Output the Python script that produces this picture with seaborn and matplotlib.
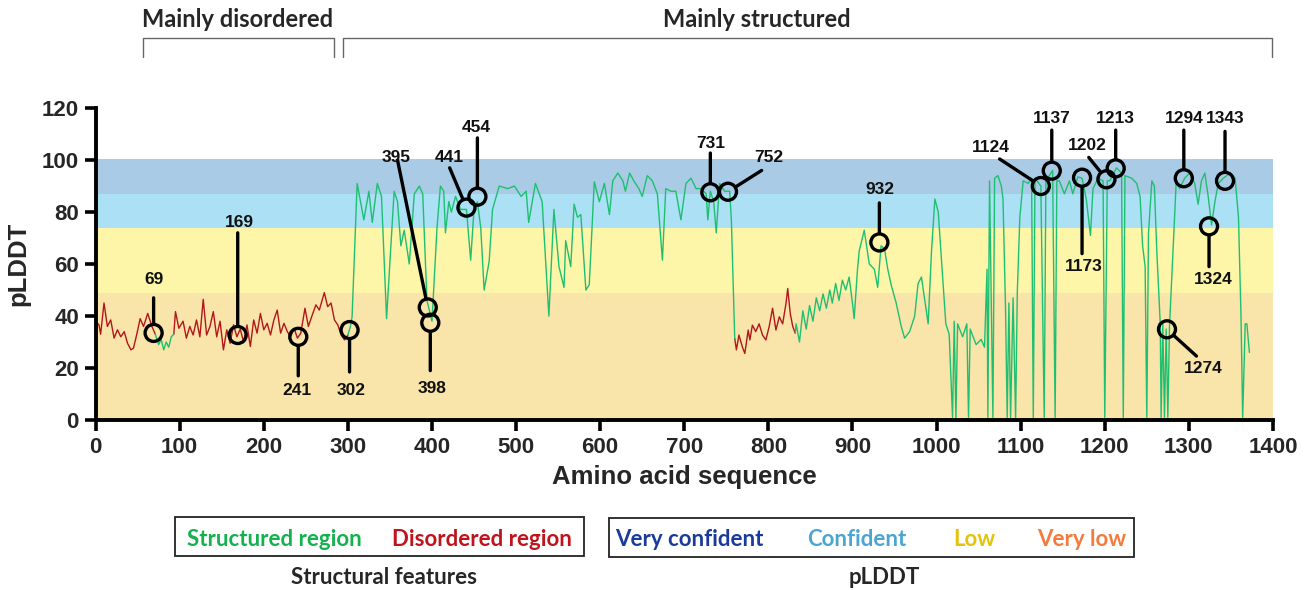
import numpy as np
import pandas as pd
import matplotlib
matplotlib.use("Agg")
import matplotlib.pyplot as plt
from matplotlib.patches import Rectangle
from matplotlib.transforms import blended_transform_factory
import seaborn as sns

# pLDDT profile (residue, score)
residue = [
    0, 4, 6, 10, 14, 18, 22, 26, 30, 34, 38, 42, 45, 49, 53, 57, 62, 67, 71,
    75, 78, 81, 84, 87, 90, 93,
    95, 99, 104, 108, 112, 116, 120, 124, 128, 132, 136, 140, 144, 148, 152, 156,
    160, 164, 168, 172, 176, 180, 184, 188, 192, 196, 200, 204, 208, 212, 216, 220,
    224, 228, 232, 236, 240, 244, 249, 253, 257, 262, 266, 272, 276, 280, 284, 288,
    292, 296, 300,
    303, 305, 311, 319, 325, 329, 335, 340, 346, 355, 359, 363, 367, 373, 379, 385,
    389, 394, 400, 406, 410, 414, 416, 420, 423, 428, 434, 441, 446, 450, 454, 458,
    462, 468, 472, 480, 490, 498, 506, 512, 515, 523, 531, 539, 545, 551, 557, 559,
    565, 569, 573, 577, 583, 587, 593, 599, 605, 611, 615, 621, 627, 630, 635, 640,
    646, 650, 656, 662, 668, 674, 678, 684, 690, 696, 702, 708, 714, 720, 726, 728,
    731, 735, 738, 742, 748, 754, 756, 760,
    762, 765, 769, 772, 776, 778, 781, 785, 789, 793, 797, 801, 805, 809, 813, 817,
    821, 823, 826, 829, 832,
    833, 837, 841, 845, 849, 853, 857, 861, 865, 869, 873, 876, 880, 884, 888, 892,
    896, 900, 902, 906, 908, 914, 920, 926, 930, 934, 938, 942, 946, 952, 958, 962,
    968, 974, 978, 982, 986, 990, 994, 998, 1002, 1006, 1011, 1015, 1019, 1021, 1023,
    1025, 1031, 1036, 1038, 1040, 1047, 1053, 1057, 1060, 1061, 1063, 1067, 1069,
    1073, 1077, 1079, 1082, 1084, 1086, 1088, 1091, 1094, 1096, 1099, 1103, 1109,
    1113, 1115, 1117, 1124, 1128, 1130, 1138, 1141, 1143, 1146, 1152, 1158, 1162,
    1168, 1173, 1178, 1183, 1186, 1192, 1198, 1200, 1203, 1206, 1214, 1220, 1222,
    1224, 1232, 1238, 1242, 1245, 1248, 1250, 1252, 1256, 1259, 1262, 1266, 1267,
    1269, 1271, 1273, 1275, 1277, 1281, 1285, 1289, 1295, 1301, 1307, 1311, 1315,
    1319, 1323, 1327, 1331, 1335, 1341, 1349, 1355, 1359, 1362, 1364, 1367, 1369,
    1372,
]
plddt = [
    38, 36.6, 33, 45, 36, 38.5, 31.5, 34.7, 32, 34, 29.5, 27, 27.6, 33, 39, 36, 41, 36, 33,
    29, 31, 27, 30, 28, 32, 33,
    41.7, 35.3, 38, 31.5, 36, 32.7, 38.5, 32, 46.4, 32.7, 36, 41.7, 32, 38, 27, 34.7,
    29.5, 36.6, 32, 35, 30, 36.6, 28.3, 38.5, 33.4, 41, 34.7, 37.2, 32.7, 38.5, 42.3, 33.4,
    37.2, 34, 32, 35.3, 31.5, 33.4, 43, 36, 39.8, 44.3, 42.3, 49, 43.6, 45, 38.5, 36.6,
    32.7, 30.8, 32.7,
    36, 39.7, 91, 77, 88, 76, 91, 86, 39, 88, 84, 67, 73, 60, 87, 90,
    87, 46, 38, 74, 90, 88, 72, 84, 80, 86, 81, 81, 61.5, 81, 84, 74,
    50, 61, 81, 90, 89, 90, 86, 88, 76, 91, 84, 40, 81, 59, 51, 69,
    59, 83, 78, 79, 50, 52, 91.6, 84, 91, 79, 92, 95, 92, 88, 95, 92,
    89, 86, 94, 92, 87, 61.5, 89, 88, 88, 77, 91, 93, 89, 89, 87, 77,
    88, 84, 72, 91, 88, 88, 77, 31.4,
    27, 32.7, 28.2, 25.6, 34.6, 30.8, 36.5, 34, 37, 32.7, 30.8, 36, 43, 34.6, 39.7, 37,
    44.9, 50.6, 41, 36, 33.4,
    37, 30, 42, 35, 44, 38, 47, 42, 48.5, 43, 50, 45, 52.5, 46, 53.8, 50,
    55, 45, 39, 58, 65, 73, 60, 58, 51, 67, 66, 58, 52, 45, 36, 31.5,
    34, 40, 52.5, 55, 46, 37, 65, 85, 80, 61, 37, 33, 1, 38, 0,
    37, 32, 37, 1, 35, 29, 31, 28, 58, 1, 92, 1, 93,
    94, 90, 85, 43, 1, 45, 1, 47, 1, 49, 78, 92, 91,
    93, 1, 93, 90, 1, 92, 96, 1, 92, 92, 87, 92, 87,
    93.5, 93, 85, 71, 89, 93, 92, 1, 92, 92, 97, 95, 1,
    94, 93, 91, 86, 67, 59, 1, 72, 92, 90, 64, 37, 1,
    37, 1, 35, 1, 36, 64, 92, 89, 93, 95, 91, 83, 92,
    95, 86, 75, 84, 91, 93, 95, 93, 78, 40, 1, 37, 37,
    26,
]
# residue ranges and their structural class
region_edges = [0, 71, 93, 300, 760, 832, 1372]
region_kind = ["Disordered", "Structured", "Disordered", "Structured", "Disordered", "Structured"]

# highlighted residues
site_pos = [69, 169, 241, 302, 395, 398, 441, 454, 731, 752, 932, 1124, 1137, 1173,
            1202, 1213, 1274, 1294, 1324, 1343]
site_val = [33.5, 32.7, 32, 34.6, 43.3, 37.4, 81.7, 85.9, 87.6, 87.8, 68.3, 90, 95.9,
            93.2, 92.6, 96.8, 34.9, 93, 74.5, 92]
# label position and start of leader line for each site
label_xy = [(69, 54), (171, 76), (240, 11.5), (304, 11.5), (357, 100.8), (400, 12.3),
            (420, 101), (453, 112.7), (732, 106.5), (801, 101), (933, 88.5), (1064, 105),
            (1137, 115.8), (1175, 59), (1179, 105.5), (1212, 116), (1317, 20),
            (1294, 116), (1329, 54), (1343, 116)]
line_from = [(69, 47), (169, 72), (241, 17), (302, 18.5), (359, 100), (398, 19),
             (421, 97), (454, 108.5), (731, 102.7), (792, 96), (932, 83.5), (1075, 100.4),
             (1137, 111.5), (1173, 64), (1181, 101), (1213, 111.5), (1309, 24.6),
             (1294, 111.5), (1324, 59), (1343, 111)]

bands = [(0, 49, "#f9e4aa"), (49, 74, "#fdf6a9"), (74, 87, "#ace0f4"), (87, 100.5, "#a9cbe5")]

# split the profile into coloured segments
rows = []
res_arr = np.array(residue)
val_arr = np.array(plddt)
for i, kind in enumerate(region_kind):
    lo, hi = region_edges[i], region_edges[i + 1]
    m = (res_arr >= lo) & (res_arr <= hi)
    for r, v in zip(res_arr[m], val_arr[m]):
        rows.append({"residue": r, "plddt": v, "seg": i, "kind": kind})
df = pd.DataFrame(rows)

sns.set_theme(style="ticks")
plt.rcParams["font.family"] = ["Liberation Sans", "DejaVu Sans"]
narrow = ["Liberation Sans Narrow", "Lato", "DejaVu Sans"]

fig = plt.figure(figsize=(13.13, 5.9), dpi=100)
ax = fig.add_axes([0.0728, 0.2881, 0.8967, 0.5288])

for lo, hi, c in bands:
    ax.axhspan(lo, hi, color=c, lw=0, zorder=0)

sns.lineplot(data=df, x="residue", y="plddt", hue="kind", units="seg", estimator=None,
             palette={"Structured": "#1fbf72", "Disordered": "#b3161b"}, lw=1.0,
             legend=False, ax=ax, zorder=2)

sns.scatterplot(x=site_pos, y=site_val, s=150, facecolor="none", edgecolor="black",
                linewidth=2.4, ax=ax, zorder=4)

for i, p in enumerate(site_pos):
    ax.annotate("", xy=(p, site_val[i]), xytext=line_from[i],
                arrowprops=dict(arrowstyle="-", lw=2.4, color="black", shrinkA=0, shrinkB=6.5),
                zorder=3)
    ax.text(label_xy[i][0], label_xy[i][1], str(p), ha="center", va="center",
            fontsize=12.5, fontweight="bold", color="#111111")

ax.set_xlim(0, 1400)
ax.set_ylim(0, 120)
ax.set_xticks(range(0, 1401, 100))
ax.set_yticks(range(0, 121, 20))
sns.despine(ax=ax)
for s in ["left", "bottom"]:
    ax.spines[s].set_linewidth(2.8)
    ax.spines[s].set_color("black")
ax.tick_params(axis="both", length=8, width=2.6, color="black", labelsize=16, pad=4)
for lab in ax.get_xticklabels() + ax.get_yticklabels():
    lab.set_fontweight("bold")
ax.set_xlabel("Amino acid sequence", fontsize=18.5, fontweight="bold", labelpad=5)
ax.set_ylabel("pLDDT", fontsize=18.5, fontweight="bold", labelpad=8)

# region brackets above the plot
tr = blended_transform_factory(ax.transData, ax.transAxes)
for x0, x1, xc, title in [(56.5, 283.5, 169, "Mainly disordered"),
                          (294, 1399, 786, "Mainly structured")]:
    ax.plot([x0, x0, x1, x1], [1.163, 1.224, 1.224, 1.163], color="#666666", lw=1.0,
            transform=tr, clip_on=False)
    ax.text(xc, 1.285, title, transform=tr, ha="center", va="center",
            fontsize=17, fontweight="bold", family=narrow)

# legend boxes under the plot
for x0, x1, y0, y1 in [(175, 584, 517, 556), (609, 1134, 518, 557)]:
    fig.patches.append(Rectangle((x0 / 1313, 1 - y1 / 590), (x1 - x0) / 1313, (y1 - y0) / 590,
                                 transform=fig.transFigure, fill=False,
                                 edgecolor="#222222", lw=1.3))
legend_items = [(274, "Structured region", "#13b24f"), (482, "Disordered region", "#c0141c"),
                (689, "Very confident", "#1a3b9c"), (857, "Confident", "#4aa5d3"),
                (974, "Low", "#e3c40b"), (1082, "Very low", "#f47b3d")]
for px, txt, col in legend_items:
    fig.text(px / 1313, 1 - 539 / 590, txt, color=col, ha="center", va="center",
             fontsize=16, fontweight="bold", family=narrow)
fig.text(384 / 1313, 1 - 577 / 590, "Structural features", ha="center", va="center",
         fontsize=16, fontweight="bold", family=narrow)
fig.text(884 / 1313, 1 - 577 / 590, "pLDDT", ha="center", va="center",
         fontsize=16, fontweight="bold", family=narrow)

fig.savefig("out.png", dpi=100)
